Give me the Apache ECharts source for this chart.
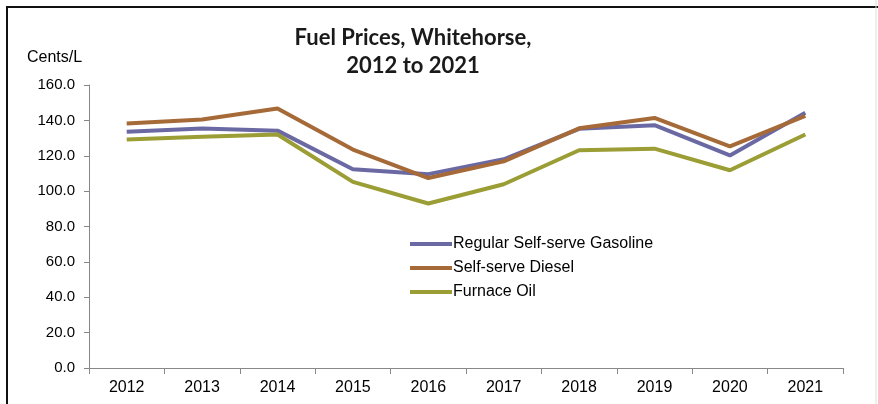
<!DOCTYPE html>
<html><head><meta charset="utf-8">
<script src="https://cdn.jsdelivr.net/npm/echarts@6/dist/echarts.min.js"></script>
<style>html,body{margin:0;padding:0;background:#fff}#c{width:878px;height:404px}</style>
</head><body><div id="c"></div>
<script>
const years = ['2012','2013','2014','2015','2016','2017','2018','2019','2020','2021'];
const gasoline = [133.5, 135.4, 134.2, 112.4, 109.6, 118.0, 135.2, 137.3, 120.2, 144.3];
const diesel = [138.3, 140.5, 146.7, 123.5, 107.4, 116.8, 135.5, 141.4, 125.3, 142.6];
const furnace = [129.2, 130.7, 132.0, 105.2, 93.0, 103.9, 123.1, 124.0, 111.8, 132.0];
const yTicks = {min: 0, max: 160, interval: 20};

const chart = echarts.init(document.getElementById('c'), null, {renderer: 'canvas'});
const sans = '"Liberation Sans", Arial, sans-serif';
const mk = (name, data, color) => ({
  name, type: 'line', data, symbol: 'none', smooth: false,
  lineStyle: {color, width: 4}, itemStyle: {color}
});
chart.setOption({
  animation: false,
  backgroundColor: '#fff',
  title: {
    text: 'Fuel Prices, Whitehorse,\n2012 to 2021',
    left: 408, top: 19, textAlign: 'center',
    textStyle: {fontFamily: 'Lato, "Open Sans", sans-serif', fontWeight: 'bold', fontSize: 22, lineHeight: 28, color: '#1a1a1a'}
  },
  graphic: [
    {type: 'rect', shape: {x: 7, y: 7, width: 1200, height: 1200}, style: {fill: 'none', stroke: '#111', lineWidth: 2}, silent: true},
    {type: 'line', shape: {x1: 876, y1: 0, x2: 876, y2: 404}, style: {stroke: '#ddd', lineWidth: 1}, silent: true},
    {type: 'text', left: 27, top: 50, style: {text: 'Cents/L', font: '16px ' + sans, fill: '#000'}}
  ],
  legend: {
    orient: 'vertical', left: 405, top: 231, itemGap: 8,
    itemWidth: 42, itemHeight: 4, icon: 'rect',
    textStyle: {fontFamily: sans, fontSize: 16, color: '#000', padding: [0,0,0,-4]},
    data: ['Regular Self-serve Gasoline', 'Self-serve Diesel', 'Furnace Oil']
  },
  grid: {left: 89, right: 35, top: 85, bottom: 36, containLabel: false},
  xAxis: {
    type: 'category', data: years, boundaryGap: true,
    axisLine: {lineStyle: {color: '#888', width: 1}},
    axisTick: {show: true, alignWithLabel: false, length: 6, lineStyle: {color: '#888'}},
    axisLabel: {fontFamily: sans, fontSize: 16, color: '#000', margin: 12}
  },
  yAxis: {
    type: 'value', min: yTicks.min, max: yTicks.max, interval: yTicks.interval,
    axisLine: {show: true, lineStyle: {color: '#888'}},
    axisTick: {show: true, length: 5, lineStyle: {color: '#888'}},
    splitLine: {show: false},
    axisLabel: {fontFamily: sans, fontSize: 15, color: '#000', margin: 14, formatter: v => v.toFixed(1)}
  },
  series: [
    mk('Regular Self-serve Gasoline', gasoline, '#6b69a3'),
    mk('Self-serve Diesel', diesel, '#a66a38'),
    mk('Furnace Oil', furnace, '#9b9d35')
  ]
});
</script></body></html>
